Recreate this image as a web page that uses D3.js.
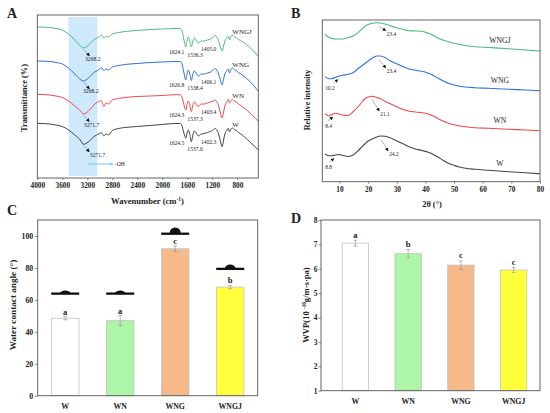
<!DOCTYPE html>
<html>
<head>
<meta charset="utf-8">
<script src="https://cdn.jsdelivr.net/npm/d3@7"></script>
<style>
  body { margin: 0; background: #fff; }
  svg { display: block; }
  text { font-family: "Liberation Serif", "Times New Roman", serif; fill: #222; }
</style>
</head>
<body>
<svg id="fig" width="550" height="413"></svg>
<script>
// ---------- data ----------
const samples = ["W", "WN", "WNG", "WNGJ"];

// FTIR (panel A), transmittance in arbitrary stacked units
const ftirWn = [4000,3800,3700,3600,3500,3400,3300,3268,3220,3150,3080,3000,2975,2935,2900,2860,2800,2700,2600,2400,
  2200,2000,1800,1720,1700,1680,1660,1640,1624,1605,1585,1560,1536,1515,1490,1470,1440,1420,1405,1370,
  1330,1280,1230,1190,1160,1130,1100,1075,1045,1020,1000,970,945,925,905,880,850,820,780,720,650,590,520,466];
const ftirWNGJ = [151,150.5,149.5,148,144,138,131.5,130,131,135,139,141.5,143,140,141.5,141,144,145.5,146.5,147.5,
  148.5,149,149.5,149.5,149,146,140,134,131,137,141,137,131,136,140,139,136,135,136,137,
  137,138,139,141,142.5,141,137,132,127,132,137,140,142,138,141,143,141.5,140.5,138.5,136.5,133,130,125.5,121.5];
const ftirWNG = [117,116.5,115.5,114,110,104,98,97,98,102,106,109,110.5,107.5,109,108,111,112.5,113.5,114.5,
  115.5,116,116.5,116.5,116,113,107,101,98,104,108,104,97.5,103,107,106,103,102,103,104,
  104,105,106,108,109.5,108,104,99,93,99,104,107,109,105,108,110,108.5,107.5,105.5,103,99.5,96,91,87];
const ftirWN = [83.7,83,82,80.5,77,72,66.5,64,65,69,74,77,77.5,71.5,75,74,78,79.5,80.5,81.5,
  82,82.5,83.3,83.3,82.5,80,75,70,68,73.5,77,73,66.5,72,76,75,72,71.5,73,74,
  74,75,76,77,78,76.5,72,66,60,66,72,76,78.5,75,77,78.5,77,76,74,71.5,68,64.5,60.5,57];
const ftirW = [54.7,54,53,51.5,48,43,37,33.7,34.5,38,42,44.5,45.3,42,44,43,47.5,49.5,50.5,51.5,
  52.5,53.5,54.5,54.5,54,51,46,42,39.7,45,48,43.5,36.3,42,47,46,43,42,43,44,
  44.5,45.5,46.5,48,49.5,48,44,38,31.3,38,44,47.5,49.7,46,48.5,50,48.5,47.5,45.5,43,39,35.5,31.5,28];
const ftirTicks = [4000,3600,3200,2800,2400,2000,1600,1200,800];
const ohBand = [3500, 3040];
const ohTrough = [3268.2, 3268.2, 3271.7, 3271.7];           // WNGJ, WNG, WN, W
const ftirPeakW = ["1624.5", "1537.0", "1402.3"];
const ftirPeakWN = ["1624.3", "1537.3", "1403.4"];
const ftirPeakWNG = ["1626.8", "1538.4", "1406.1"];
const ftirPeakWNGJ = ["1624.1", "1536.3", "1405.0"];

// XRD (panel B), relative intensity in stacked units
const xrdTheta = [5,6.2,7.5,8.5,9.65,11,13.1,15,16.6,18,19,20,21.1,22,23,24.2,25.9,27.5,29.4,32,
  34.1,36.5,38.7,41,42.8,44.5,46.3,48,50,51.5,54,57.3,62,69,75,80];
const xrdWNGJ = [147.4,144.4,143.2,142.7,142.7,142.7,144,146.2,149.4,153.2,155.7,157.2,158.2,158.7,159,158.7,157.7,156.2,154.4,152.4,
  151,150.7,150.4,148.4,146.2,143.4,141.5,140,138.4,137.4,136.2,135,134.2,133,131.7,130.7];
const xrdWNG = [105,103,103.2,104.2,105.4,106.4,107.4,109.4,113.4,116.2,118.4,120.7,123,124.4,125.7,125.7,124.2,121.2,118.7,115.2,
  113,111.4,110.4,108.4,106.2,103.4,100.7,98.4,96.7,95.7,94.7,94,93.4,92.4,91.7,91];
const xrdWN = [68,65.7,67.4,68.4,68,66.7,66.2,70.7,75.2,80.2,83.2,84.7,85.5,85.2,84.2,83.2,80.2,78.2,75.7,72.4,
  70.7,69.7,69,67.7,65.7,63,60.5,58.4,56.9,56,54.9,54,53.4,52.4,51.7,51];
const xrdW = [27.7,26,25.9,26.7,27.2,26.4,25.2,27.2,31.2,35.4,38.2,40.7,42.2,43.5,44.7,45.7,45.4,44.2,41.7,38.2,
  35.2,32.7,31.2,29.4,27.2,24.4,21.2,18.4,16.4,15,13.5,12.4,11.4,10,8.9,8];
const xrdTicks = [10,20,30,40,50,60,70,80];
const xrdMainPeak = [24.2, 21.1, 23.4, 23.4];                // W, WN, WNG, WNGJ
const xrdSmallPeak = [8.8, 8.4, 10.2, null];

// Water contact angle (panel C)
const wcaMean = [48.5, 47, 92, 68];
const wcaErr = [1, 3.2, 1.8, 1];
const wcaLetter = ["a", "a", "c", "b"];
const dropLevel = [64, 64, 101.5, 79.5];

// WVP (panel D)
const wvpMean = [7.05, 6.62, 6.15, 5.95];
const wvpErr = [0.12, 0.17, 0.17, 0.1];
const wvpLetter = ["a", "b", "c", "c"];

const barColors = ["#ffffff", "#adf5a7", "#f5b98a", "#ffff3c"];
const lineColors = { W: "#454545", WN: "#ef4a4a", WNG: "#2e6fe2", WNGJ: "#4dbb79" };

// ---------- helpers ----------
const svg = d3.select("#fig");
const defs = svg.append("defs");
defs.append("marker")
    .attr("id", "head")
    .attr("viewBox", "0 0 6 6")
    .attr("refX", 5.5).attr("refY", 3)
    .attr("markerWidth", 3.6).attr("markerHeight", 3.6)
    .attr("markerUnits", "userSpaceOnUse")
    .attr("orient", "auto")
  .append("path").attr("d", "M0,0L6,3L0,6z").attr("fill", "#111");
defs.append("marker")
    .attr("id", "headBlue")
    .attr("viewBox", "0 0 6 6")
    .attr("refX", 5.5).attr("refY", 3)
    .attr("markerWidth", 3.5).attr("markerHeight", 3.5)
    .attr("markerUnits", "userSpaceOnUse")
    .attr("orient", "auto")
  .append("path").attr("d", "M0,0L6,3L0,6z").attr("fill", "#7fc6f2");

function valueAt(xs, ys, x) {
  for (let i = 0; i < xs.length - 1; i++) {
    const a = xs[i], b = xs[i + 1];
    if ((x - a) * (x - b) <= 0) return ys[i] + (ys[i + 1] - ys[i]) * (x - a) / (b - a);
  }
  return ys[ys.length - 1];
}

function arrow(g, x1, y1, x2, y2) {
  g.append("line")
    .attr("x1", x1).attr("y1", y1).attr("x2", x2).attr("y2", y2)
    .attr("stroke", "#666").attr("stroke-width", 0.5)
    .attr("marker-end", "url(#head)");
}

function frame(g, x0, x1, y0, y1) {
  g.append("rect")
    .attr("x", x0).attr("y", y0)
    .attr("width", x1 - x0).attr("height", y1 - y0)
    .attr("fill", "none").attr("stroke", "#555").attr("stroke-width", 0.9);
}

function styleAxis(ax, size) {
  ax.select(".domain").remove();
  ax.selectAll(".tick line").attr("stroke", "#555").attr("stroke-width", 0.7);
  ax.selectAll(".tick text")
    .attr("font-size", size).attr("font-weight", "bold").attr("fill", "#222")
    .style("font-family", "'Liberation Serif', serif");
}

function panelLetter(t, x, y) {
  svg.append("text").attr("x", x).attr("y", y)
    .attr("font-size", 14).attr("font-weight", "bold").text(t);
}

// ---------- panel A: FTIR ----------
const xA = d3.scaleLinear().domain([4000, 465]).range([37.3, 258.3]);
const yA = d3.scaleLinear().domain([0, 163]).range([178, 15]);
const gA = svg.append("g");

gA.append("rect")
  .attr("x", xA(ohBand[0])).attr("width", xA(ohBand[1]) - xA(ohBand[0]))
  .attr("y", yA(161)).attr("height", yA(2) - yA(161))
  .attr("fill", "#cde9fb");

const ftir = [
  { name: "WNGJ", v: ftirWNGJ, peaks: ftirPeakWNGJ, trough: ohTrough[0], dx: 2, dy: 13.5 },
  { name: "WNG", v: ftirWNG, peaks: ftirPeakWNG, trough: ohTrough[1], dx: 0, dy: 12 },
  { name: "WN", v: ftirWN, peaks: ftirPeakWN, trough: ohTrough[2], dx: 1, dy: 13.5 },
  { name: "W", v: ftirW, peaks: ftirPeakW, trough: ohTrough[3], dx: 7, dy: 13.5 }
];

const lineA = d3.line()
  .x((d, i) => xA(ftirWn[i]))
  .y(d => yA(d))
  .curve(d3.curveMonotoneX);

gA.selectAll("path.ftir")
  .data(ftir)
  .join("path")
  .attr("class", "ftir")
  .attr("d", d => lineA(d.v))
  .attr("fill", "none")
  .attr("stroke", d => lineColors[d.name])
  .attr("stroke-width", 1);

ftir.forEach(s => {
  // O-H trough
  const tx = xA(s.trough), ty = yA(valueAt(ftirWn, s.v, s.trough));
  arrow(gA, tx + 1, ty + 1.5, tx + 6.5, ty + 8);
  gA.append("text").attr("x", tx + s.dx).attr("y", ty + s.dy)
    .attr("font-size", 5.6).text(s.trough.toFixed(1));

  // amide bands
  const y1 = yA(valueAt(ftirWn, s.v, 1624));
  gA.append("text").attr("x", xA(1624) - 1.5).attr("y", y1 + 7)
    .attr("text-anchor", "end").attr("font-size", 5.6).text(s.peaks[0]);
  const y2 = yA(valueAt(ftirWn, s.v, 1536));
  gA.append("text").attr("x", xA(1536) - 4).attr("y", y2 + 9.5)
    .attr("font-size", 5.6).text(s.peaks[1]);
  const y3 = yA(valueAt(ftirWn, s.v, 1405));
  gA.append("text").attr("x", xA(1405) + 1.5).attr("y", y3 + 8.5)
    .attr("font-size", 5.6).text(s.peaks[2]);

  // sample name, sitting just above the curve
  gA.append("text").attr("x", xA(880)).attr("y", yA(valueAt(ftirWn, s.v, 880)) - 1.5)
    .attr("font-size", 7).text(s.name);
});

// -OH legend arrow
gA.append("line")
  .attr("x1", xA(3190)).attr("x2", xA(2790))
  .attr("y1", yA(14)).attr("y2", yA(14))
  .attr("stroke", "#7fc6f2").attr("stroke-width", 1.1)
  .attr("marker-end", "url(#headBlue)");
gA.append("text").attr("x", xA(2760)).attr("y", yA(14) + 2)
  .attr("font-size", 5.6).text("-OH");

frame(gA, 37.3, 258.3, 15, 178);
const axA = gA.append("g").attr("transform", "translate(0,178)")
  .call(d3.axisBottom(xA).tickValues(ftirTicks).tickSize(2).tickPadding(3).tickFormat(d3.format("d")));
styleAxis(axA, 7.3);

const xtA = gA.append("text").attr("x", 147.5).attr("y", 204)
  .attr("text-anchor", "middle").attr("font-size", 8.6).attr("font-weight", "bold");
xtA.append("tspan").text("Wavenumber (cm");
xtA.append("tspan").attr("dy", -3).attr("font-size", 5.5).text("-1");
xtA.append("tspan").attr("dy", 3).text(")");

gA.append("text").attr("transform", "translate(27,98) rotate(-90)")
  .attr("text-anchor", "middle").attr("font-size", 8.4).attr("font-weight", "bold")
  .text("Transmittance (%)");

panelLetter("A", 7, 18);

// ---------- panel B: XRD ----------
const xB = d3.scaleLinear().domain([4, 80]).range([322.3, 540]);
const yB = d3.scaleLinear().domain([0, 161.7]).range([181.7, 20]);
const gB = svg.append("g");

const xrd = [
  { name: "WNGJ", v: xrdWNGJ, main: xrdMainPeak[3], small: xrdSmallPeak[3], dy: 13 },
  { name: "WNG", v: xrdWNG, main: xrdMainPeak[2], small: xrdSmallPeak[2], dy: 17 },
  { name: "WN", v: xrdWN, main: xrdMainPeak[1], small: xrdSmallPeak[1], dy: 20 },
  { name: "W", v: xrdW, main: xrdMainPeak[0], small: xrdSmallPeak[0], dy: 20 }
];

const lineB = d3.line()
  .x((d, i) => xB(xrdTheta[i]))
  .y(d => yB(d))
  .curve(d3.curveMonotoneX);

gB.selectAll("path.xrd")
  .data(xrd)
  .join("path")
  .attr("class", "xrd")
  .attr("d", d => lineB(d.v))
  .attr("fill", "none")
  .attr("stroke", d => lineColors[d.name])
  .attr("stroke-width", 1.1);

xrd.forEach(s => {
  const px = xB(s.main), py = yB(valueAt(xrdTheta, s.v, s.main));
  arrow(gB, px + 1, py + 3.5, px + 8, py + s.dy - 5);
  gB.append("text").attr("x", px + 9).attr("y", py + s.dy)
    .attr("font-size", 5.4).text(s.main.toFixed(1));

  if (s.small !== null) {
    const sx = xB(s.small), sy = yB(valueAt(xrdTheta, s.v, s.small));
    arrow(gB, sx - 7, sy + 7.5, sx - 2, sy + 3.5);
    gB.append("text").attr("x", xB(5)).attr("y", sy + 14.5)
      .attr("font-size", 5.4).text(s.small.toFixed(1));
  }

  gB.append("text").attr("x", xB(66)).attr("y", yB(valueAt(xrdTheta, s.v, 66)) - 5.5)
    .attr("text-anchor", "middle").attr("font-size", 7.6).text(s.name);
});

frame(gB, 322.3, 540, 20, 181.7);
const axB = gB.append("g").attr("transform", "translate(0,181.7)")
  .call(d3.axisBottom(xB).tickValues(xrdTicks).tickSize(2).tickPadding(3));
styleAxis(axB, 7.3);

gB.append("text").attr("x", 432).attr("y", 206.5)
  .attr("text-anchor", "middle").attr("font-size", 8.4).attr("font-weight", "bold")
  .text("2θ (°)");
gB.append("text").attr("transform", "translate(310,100) rotate(-90)")
  .attr("text-anchor", "middle").attr("font-size", 8.2).attr("font-weight", "bold")
  .text("Relative intensity");

panelLetter("B", 291, 18);

// ---------- panel C: water contact angle ----------
const xC = d3.scaleBand().domain(samples).range([37.7, 257.7]).paddingInner(0.5).paddingOuter(0.25);
const yC = d3.scaleLinear().domain([0, 110]).range([395.7, 220]);
const gC = svg.append("g");

gC.selectAll("rect.bar")
  .data(samples)
  .join("rect")
  .attr("class", "bar")
  .attr("x", d => xC(d))
  .attr("width", xC.bandwidth())
  .attr("y", (d, i) => yC(wcaMean[i]))
  .attr("height", (d, i) => yC(0) - yC(wcaMean[i]))
  .attr("fill", (d, i) => barColors[i])
  .attr("stroke", "#c4c4c4").attr("stroke-width", 0.8);

samples.forEach((d, i) => {
  const cx = xC(d) + xC.bandwidth() / 2;
  const top = yC(wcaMean[i] + wcaErr[i]), bot = yC(wcaMean[i] - wcaErr[i]);
  gC.append("path")
    .attr("d", `M${cx},${top}V${bot}M${cx - 2},${top}H${cx + 2}M${cx - 2},${bot}H${cx + 2}`)
    .attr("stroke", "#999").attr("stroke-width", 0.7).attr("fill", "none");
  gC.append("text").attr("x", cx).attr("y", top - 2)
    .attr("text-anchor", "middle").attr("font-size", 8.5).attr("font-weight", "bold")
    .text(wcaLetter[i]);

  // droplet sketch: spherical cap drawn with the measured contact angle
  const base = yC(dropLevel[i]);
  const a = 5.5, th = wcaMean[i] * Math.PI / 180;
  const R = a / Math.sin(th);
  gC.append("rect").attr("x", cx - 14).attr("y", base - 1)
    .attr("width", 28).attr("height", 2.3).attr("fill", "#111");
  gC.append("path")
    .attr("d", `M${cx - a},${base - 0.5}A${R},${R} 0 ${th > Math.PI / 2 ? 1 : 0} 1 ${cx + a},${base - 0.5}Z`)
    .attr("fill", "#111");
});

frame(gC, 37.7, 257.7, 220, 395.7);
const ayC = gC.append("g").attr("transform", "translate(37.7,0)")
  .call(d3.axisLeft(yC).tickValues([0, 20, 40, 60, 80, 100]).tickSize(3).tickPadding(1.5));
styleAxis(ayC, 7.8);

gC.selectAll("text.cat")
  .data(samples)
  .join("text")
  .attr("class", "cat")
  .attr("x", d => xC(d) + xC.bandwidth() / 2)
  .attr("y", 409)
  .attr("text-anchor", "middle").attr("font-size", 7.8).attr("font-weight", "bold")
  .text(d => d);

gC.append("text").attr("transform", "translate(15.5,305) rotate(-90)")
  .attr("text-anchor", "middle").attr("font-size", 9.2).attr("font-weight", "bold")
  .text("Water contact angle (°)");

panelLetter("C", 7, 215);

// ---------- panel D: WVP ----------
const xD = d3.scaleBand().domain(samples).range([329, 540]).paddingInner(0.5).paddingOuter(0.25);
const yD = d3.scaleLinear().domain([1, 8]).range([390.7, 220]);
const gD = svg.append("g");

gD.selectAll("rect.bar")
  .data(samples)
  .join("rect")
  .attr("class", "bar")
  .attr("x", d => xD(d))
  .attr("width", xD.bandwidth())
  .attr("y", (d, i) => yD(wvpMean[i]))
  .attr("height", (d, i) => yD(1) - yD(wvpMean[i]))
  .attr("fill", (d, i) => barColors[i])
  .attr("stroke", "#c4c4c4").attr("stroke-width", 0.8);

samples.forEach((d, i) => {
  const cx = xD(d) + xD.bandwidth() / 2;
  const top = yD(wvpMean[i] + wvpErr[i]), bot = yD(wvpMean[i] - wvpErr[i]);
  gD.append("path")
    .attr("d", `M${cx},${top}V${bot}M${cx - 2},${top}H${cx + 2}M${cx - 2},${bot}H${cx + 2}`)
    .attr("stroke", "#999").attr("stroke-width", 0.7).attr("fill", "none");
  gD.append("text").attr("x", cx).attr("y", top - 2.5)
    .attr("text-anchor", "middle").attr("font-size", 8.5).attr("font-weight", "bold")
    .text(wvpLetter[i]);
});

frame(gD, 321, 540, 220, 390.7);
const ayD = gD.append("g").attr("transform", "translate(321,0)")
  .call(d3.axisLeft(yD).tickValues(d3.range(1, 9)).tickSize(2.5).tickPadding(1).tickFormat(d3.format("d")));
styleAxis(ayD, 7.5);

gD.selectAll("text.cat")
  .data(samples)
  .join("text")
  .attr("class", "cat")
  .attr("x", d => xD(d) + xD.bandwidth() / 2)
  .attr("y", 404)
  .attr("text-anchor", "middle").attr("font-size", 7.8).attr("font-weight", "bold")
  .text(d => d);

const ytD = gD.append("text").attr("transform", "translate(308.5,305) rotate(-90)")
  .attr("text-anchor", "middle").attr("font-size", 8.6).attr("font-weight", "bold");
ytD.append("tspan").text("WVP(10 ");
ytD.append("tspan").attr("dy", -3).attr("font-size", 5.2).text("-10");
ytD.append("tspan").attr("dy", 3).text("g/m·s·pa)");

panelLetter("D", 291, 223);
</script>
</body>
</html>
